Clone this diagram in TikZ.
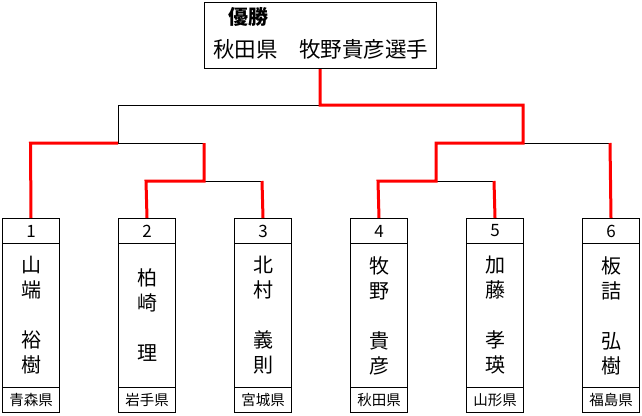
\documentclass[tikz,border=0pt]{standalone}
\usepackage{fontspec}
\newfontfamily\jp{Noto Sans CJK JP}
\begin{document}
\begin{tikzpicture}[x=1pt,y=-1pt,
  cell/.style={draw=black,line width=1pt,rectangle,inner sep=0pt,minimum width=57pt,anchor=north west},
  numcell/.style={cell,minimum height=25pt,font=\jp\fontsize{17pt}{17pt}\selectfont},
  namecell/.style={cell,minimum height=144pt,align=center,font=\jp\fontsize{20pt}{25pt}\selectfont},
  prefcell/.style={cell,minimum height=25pt,font=\jp\fontsize{14.5pt}{14.5pt}\selectfont},
  win/.style={draw=red,line width=3pt},
  lose/.style={draw=black,line width=1pt}]
\useasboundingbox (0,0) rectangle (642,415);
\fill[white] (0,0) rectangle (642,415);
% champion box
\node[draw=black,line width=1pt,rectangle,minimum width=232pt,minimum height=66pt,anchor=north west,inner sep=0pt] (champ) at (204,2) {};
\node[font=\jp\bfseries\fontsize{20pt}{20pt}\selectfont,anchor=west,inner sep=0pt] (yusho) at (228,17) {優勝};
\node[font=\jp\fontsize{21.5pt}{21.5pt}\selectfont,anchor=west,inner sep=0pt] (winner) at (213,49) {秋田県　牧野貴彦選手};
% player boxes
\foreach \i/\nm/\pf [count=\k from 0] in {1/{山\\端\\\phantom{山}\\裕\\樹}/青森県, 2/{柏\\崎\\\phantom{山}\\理}/岩手県, 3/{北\\村\\\phantom{山}\\義\\則}/宮城県, 4/{牧\\野\\\phantom{山}\\貴\\彦}/秋田県, 5/{加\\藤\\\phantom{山}\\孝\\瑛}/山形県, 6/{板\\詰\\\phantom{山}\\弘\\樹}/福島県}{
  \node[numcell] (n\i) at (2+116*\k,218) {\i};
  \node[namecell] (b\i) at (2+116*\k,243) {\nm};
  \node[prefcell] (p\i) at (2+116*\k,387) {\pf};
}
% bracket coordinates
\coordinate (top) at (320,105);
\coordinate (lt) at (118,105);
\coordinate (rt) at (523,105);
\coordinate (l1) at (118,143);
\coordinate (l1a) at (30.5,143);
\coordinate (l1b) at (204,143);
\coordinate (l2) at (204,181);
\coordinate (l2a) at (146,181);
\coordinate (l2b) at (262,181);
\coordinate (r1) at (523,143);
\coordinate (r1a) at (436,143);
\coordinate (r1b) at (610,143);
\coordinate (r2) at (436,181);
\coordinate (r2a) at (378,181);
\coordinate (r2b) at (494,181);
% losing (black) lines
\draw[lose] (top) -- (lt) -- (l1) -- (l1b);
\draw[lose] (l2) -- (l2b);
\draw[lose] (r1) -- (r1b);
\draw[lose] (r2) -- (r2b);
% winning (red) lines
\draw[win,line join=miter] (champ.south -| top) -- (top) -- (rt) -- (r1) -- (r1a) -- (r2) -- (r2a) -- (n4.north);
\draw[win,line join=miter] (l1) -- (l1a) -- (n1.north);
\draw[win,line join=miter] (l1b) -- (l2) -- (l2a) -- (n2.north);
\draw[win] (l2b) -- (n3.north);
\draw[win] (r2b) -- (n5.north);
\draw[win] (r1b) -- (n6.north);
\end{tikzpicture}
\end{document}
